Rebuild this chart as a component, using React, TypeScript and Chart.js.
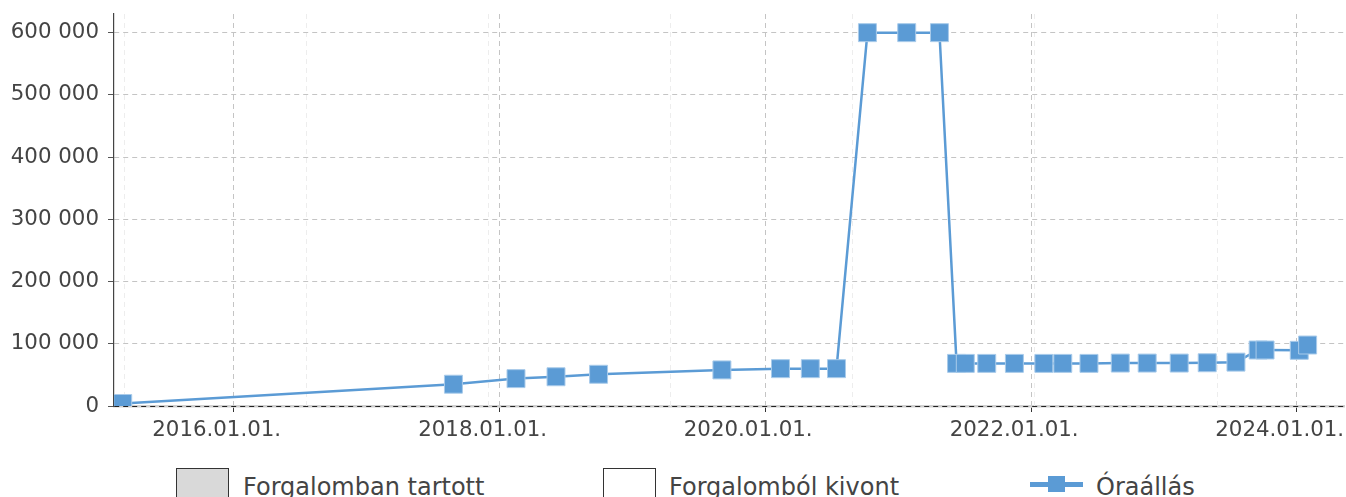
import React, { useEffect, useRef } from 'react';
import { Chart, registerables } from 'chart.js';

Chart.register(...registerables);

// ---- data ----
const readingDates: string[] = [
  '2015-03-02', '2017-08-27', '2018-02-15', '2018-06-05', '2018-09-30',
  '2019-09-04', '2020-02-12', '2020-05-04', '2020-07-15', '2020-10-08',
  '2021-01-24', '2021-04-24', '2021-06-10', '2021-07-04', '2021-09-01',
  '2021-11-16', '2022-02-05', '2022-03-29', '2022-06-09', '2022-09-03',
  '2022-11-16', '2023-02-12', '2023-04-30', '2023-07-18', '2023-09-17',
  '2023-10-06', '2024-01-08', '2024-01-31',
];
const hourValues: number[] = [
  4000, 35000, 44000, 47000, 51000,
  58000, 60000, 60000, 60000, 600000,
  600000, 600000, 68500, 68500, 68500,
  68500, 68500, 68500, 68500, 69000,
  69000, 69000, 69500, 70500, 90000,
  90000, 89500, 98000,
];
const xTickYears: number[] = [2016, 2018, 2020, 2022, 2024];
const xTickLabels: string[] = ['2016.01.01.', '2018.01.01.', '2020.01.01.', '2022.01.01.', '2024.01.01.'];
const yTickValues: number[] = [0, 100000, 200000, 300000, 400000, 500000, 600000];
const xMinDate = '2015-02-06';
const xMaxDate = '2024-05-10';
const yMax = 630000;
const legendLabels: string[] = ['Forgalomban tartott', 'Forgalomból kivont', 'Óraállás'];

const BLUE = '#5b9bd5';
const TEXT = '#444444';
const FONT = 'DejaVu Sans';
const FS = 21.33;
const LEGEND_FS = 24;

const fmt = (v: number) => String(Math.round(v)).replace(/\B(?=(\d{3})+(?!\d))/g, ' ');

const noPad = (scale: any) => {
  scale.paddingLeft = 0;
  scale.paddingRight = 0;
  scale.paddingTop = 0;
  scale.paddingBottom = 0;
};

export default function App() {
  const ref = useRef<HTMLCanvasElement | null>(null);

  useEffect(() => {
    if (!ref.current) return;
    const data = readingDates.map((d, i) => ({ x: Date.parse(d), y: hourValues[i] }));
    const chart = new Chart(ref.current, {
      type: 'line',
      data: {
        datasets: [
          {
            label: legendLabels[2],
            data,
            borderColor: BLUE,
            backgroundColor: BLUE,
            borderWidth: 2.5,
            pointStyle: 'rect',
            pointRadius: 12.7,
            pointHoverRadius: 12.7,
            pointBorderWidth: 1,
            pointBorderColor: '#a9cbea',
            pointBackgroundColor: BLUE,
            tension: 0,
            xAxisID: 'x',
            yAxisID: 'y',
          },
        ],
      },
      options: {
        animation: false,
        responsive: true,
        maintainAspectRatio: false,
        layout: { autoPadding: false, padding: { top: 14, right: 2, left: 0, bottom: 0 } },
        plugins: { legend: { display: false }, tooltip: { enabled: false } },
        scales: {
          x: {
            type: 'linear',
            position: 'bottom',
            min: Date.parse(xMinDate),
            max: Date.parse(xMaxDate),
            afterBuildTicks: (scale: any) => {
              scale.ticks = xTickYears.map((y) => ({ value: Date.UTC(y, 0, 1) }));
            },
            afterFit: (scale: any) => { scale.height = 54; noPad(scale); },
            ticks: {
              callback: (_v: any, i: number) => xTickLabels[i],
              font: { family: FONT, size: FS },
              color: TEXT,
              padding: 6,
              labelOffset: -17,
              maxRotation: 0,
              autoSkip: false,
            },
            grid: {
              color: '#c4c4c4',
              lineWidth: 1,
              drawTicks: true,
              tickLength: 6,
              tickColor: '#333333',
              tickWidth: 1,
            },
            border: { display: true, color: '#d0d0d0', width: 2.5, dash: [5, 4], z: -1 },
          },
          x2: {
            type: 'linear',
            position: 'bottom',
            min: -0.055,
            max: 6.696,
            afterFit: (scale: any) => { scale.height = 0; noPad(scale); },
            ticks: { display: false, stepSize: 1, includeBounds: false },
            grid: { color: '#ededed', lineWidth: 1, drawTicks: false },
            border: { display: false, dash: [5, 4] },
          },
          y: {
            type: 'linear',
            min: 0,
            max: yMax,
            afterBuildTicks: (scale: any) => {
              scale.ticks = yTickValues.map((v) => ({ value: v }));
            },
            afterFit: (scale: any) => { scale.width = 114; noPad(scale); },
            ticks: {
              callback: (v: any) => fmt(Number(v)),
              font: { family: FONT, size: FS },
              color: TEXT,
              padding: 9,
            },
            grid: {
              color: (ctx: any) => (ctx.tick && ctx.tick.value === 0 ? '#222222' : '#c4c4c4'),
              lineWidth: 1,
              tickLength: 6,
              tickColor: '#555555',
              tickWidth: 1,
            },
            border: { display: true, color: '#444444', width: 1.2, dash: [5, 4] },
          },
        },
      },
    });
    return () => chart.destroy();
  }, []);

  const textStyle: React.CSSProperties = {
    position: 'absolute',
    top: 473,
    height: 28,
    fontFamily: FONT,
    fontSize: LEGEND_FS,
    lineHeight: '28px',
    color: TEXT,
    whiteSpace: 'nowrap',
  };
  const boxStyle: React.CSSProperties = {
    position: 'absolute',
    top: 468,
    width: 51,
    height: 29,
    border: '1px solid #333',
    borderBottom: 'none',
  };

  return (
    <div style={{ position: 'relative', width: '100%', height: 497, overflow: 'hidden' }}>
      <style>{'html,body{margin:0;padding:0;overflow:hidden;}'}</style>
      <div style={{ position: 'relative', width: '100%', height: 460 }}>
        <canvas ref={ref} />
      </div>
      <div style={{ ...boxStyle, left: 176, background: '#d9d9d9' }} />
      <span style={{ ...textStyle, left: 243 }}>{legendLabels[0]}</span>
      <div style={{ ...boxStyle, left: 603, background: '#ffffff' }} />
      <span style={{ ...textStyle, left: 669 }}>{legendLabels[1]}</span>
      <div style={{ position: 'absolute', left: 1030, top: 482, width: 53, height: 5, background: BLUE }} />
      <div style={{ position: 'absolute', left: 1048, top: 476, width: 17, height: 16, background: BLUE }} />
      <span style={{ ...textStyle, left: 1096 }}>{legendLabels[2]}</span>
    </div>
  );
}
